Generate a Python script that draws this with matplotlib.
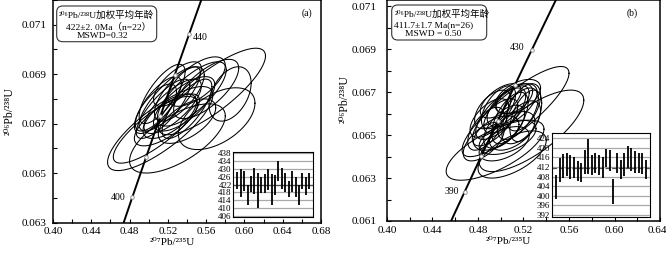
import numpy as np
import matplotlib.pyplot as plt
from matplotlib.patches import FancyBboxPatch
from matplotlib.transforms import IdentityTransform
from matplotlib.ticker import MultipleLocator, FormatStrFormatter, FuncFormatter

plt.rcParams['font.family'] = ['Liberation Serif', 'DejaVu Serif', 'Noto Sans CJK SC']

L238 = 1.55125e-10
L235 = 9.8485e-10

# ---- (a) ellipses: centre 207/235, centre 206/238, half x-range, half y-range, rho
a_x = [0.566, 0.571, 0.512, 0.508, 0.530, 0.560, 0.585, 0.545, 0.522, 0.525, 0.515,
       0.532, 0.510, 0.537, 0.522, 0.540, 0.507, 0.530, 0.514, 0.550, 0.518, 0.540]
a_y = [0.0683, 0.0672, 0.0668, 0.0668, 0.0664, 0.0684, 0.0682, 0.0682, 0.0680, 0.0677, 0.0676,
       0.0682, 0.0678, 0.0678, 0.0673, 0.0676, 0.0676, 0.0686, 0.0682, 0.0687, 0.0671, 0.0671]
a_sx = [0.056, 0.040, 0.055, 0.045, 0.050, 0.034, 0.022, 0.036, 0.032, 0.030, 0.028,
        0.026, 0.024, 0.032, 0.028, 0.026, 0.022, 0.025, 0.024, 0.030, 0.033, 0.030]
a_sy = [0.00175, 0.00125, 0.0017, 0.0014, 0.0014, 0.0012, 0.0011, 0.0013, 0.0013, 0.0011, 0.0012,
        0.0011, 0.0011, 0.0011, 0.0009, 0.0012, 0.0010, 0.0009, 0.0012, 0.0010, 0.0010, 0.0009]
a_rho = [0.82, 0.50, 0.80, 0.82, 0.65, 0.70, 0.40, 0.75, 0.80, 0.75, 0.80,
         0.70, 0.75, 0.70, 0.65, 0.75, 0.70, 0.70, 0.75, 0.65, 0.70, 0.60]

# ---- (b) ellipses
b_x = [0.495, 0.513, 0.527, 0.510, 0.500, 0.505, 0.510, 0.495, 0.515, 0.508, 0.498, 0.520, 0.490,
       0.503, 0.512, 0.496, 0.487, 0.518, 0.506, 0.500, 0.522, 0.493, 0.510, 0.515, 0.485, 0.503]
b_y = [0.0643, 0.0661, 0.0652, 0.0641, 0.0660, 0.0662, 0.0664, 0.0656, 0.0660, 0.0658, 0.0663, 0.0663, 0.0658,
       0.0654, 0.0667, 0.0651, 0.0653, 0.0656, 0.0649, 0.0666, 0.0659, 0.0662, 0.0652, 0.0668, 0.0647, 0.0646]
b_sx = [0.043, 0.047, 0.046, 0.030, 0.022, 0.020, 0.022, 0.020, 0.018, 0.016, 0.015, 0.015, 0.017,
        0.018, 0.016, 0.020, 0.016, 0.017, 0.025, 0.018, 0.014, 0.016, 0.020, 0.020, 0.018, 0.022]
b_sy = [0.0014, 0.0021, 0.0019, 0.0011, 0.0012, 0.0011, 0.0010, 0.0011, 0.0012, 0.0012, 0.0010, 0.0011, 0.0009,
        0.0010, 0.0007, 0.0008, 0.0010, 0.0010, 0.0008, 0.0008, 0.0012, 0.0009, 0.0009, 0.0008, 0.0009, 0.0008]
b_rho = [0.70, 0.85, 0.75, 0.60, 0.70, 0.70, 0.60, 0.70, 0.60, 0.60, 0.60, 0.50, 0.60,
         0.60, 0.50, 0.50, 0.60, 0.55, 0.50, 0.60, 0.50, 0.55, 0.50, 0.50, 0.60, 0.50]

# ---- weighted-mean insets: age and error (Ma)
a_age = [424.2, 422.7, 423.8, 416.6, 422.3, 423.9, 418.8, 421.7, 422.7, 424.6, 419.4,
         421.6, 428.8, 425.2, 422.9, 419.6, 423.5, 420.6, 416.6, 423.8, 421.0, 423.8]
a_err = [4.4, 7.1, 5.2, 5.1, 4.2, 6.6, 9.0, 3.9, 4.9, 5.2, 7.9,
         5.2, 5.2, 5.4, 4.8, 4.0, 5.4, 5.0, 5.1, 4.0, 4.6, 4.0]
b_age = [403.7, 410.9, 412.6, 413.0, 411.9, 411.8, 410.4, 409.8, 414.2, 416.4, 412.8, 413.7, 412.8,
         411.8, 415.8, 414.7, 401.8, 413.8, 411.0, 413.1, 416.2, 415.1, 414.2, 413.8, 413.6, 411.0]
b_err = [5.0, 5.0, 5.0, 4.7, 5.0, 4.2, 4.3, 3.9, 4.9, 7.1, 4.1, 4.0, 4.1,
         4.2, 3.9, 4.3, 5.2, 4.1, 4.1, 4.8, 4.6, 4.7, 4.5, 4.1, 4.3, 4.1]

a_mean, b_mean = 422.0, 411.7
a_marks = [400, 410, 420, 430, 440]
b_marks = [390, 400, 410, 420, 430]

W, H = 666, 254
fig = plt.figure(figsize=(W / 100, H / 100), dpi=100)


def frac(x0, y0, x1, y1):
    return [x0 / W, 1 - y1 / H, (x1 - x0) / W, (y1 - y0) / H]


def concordia(t):
    return np.exp(L235 * t * 1e6) - 1, np.exp(L238 * t * 1e6) - 1


def main_panel(ax, xs, ys, sxs, sys_, rhos, marks, xlim, ylim, ylabs, ypad):
    t = np.linspace(0, 2 * np.pi, 200)
    for x0, y0, sx, sy, r in zip(xs, ys, sxs, sys_, rhos):
        ax.plot(x0 + sx * np.cos(t),
                y0 + sy * (r * np.cos(t) + np.sqrt(1 - r * r) * np.sin(t)),
                color='black', lw=0.75)
    age = np.linspace(300, 520, 300)
    cx, cy = concordia(age)
    ax.plot(cx, cy, color='black', lw=1.4, zorder=3)
    mx, my = concordia(np.array(marks, dtype=float))
    ax.plot(mx, my, 'o', ms=2.6, mfc='white', mec='#888888', mew=0.6, zorder=4)
    ax.set_xlim(*xlim)
    ax.set_ylim(*ylim)
    ax.xaxis.set_major_locator(MultipleLocator(0.04))
    ax.xaxis.set_minor_locator(MultipleLocator(0.02))
    ax.xaxis.set_major_formatter(FormatStrFormatter('%.2f'))
    ax.set_yticks(ylabs)
    ax.yaxis.set_minor_locator(MultipleLocator(0.001))
    ax.yaxis.set_major_formatter(FormatStrFormatter('%.3f'))
    ax.tick_params(which='both', direction='in', length=3.2, width=0.8,
                   top=False, right=False, labelsize=8)
    ax.tick_params(axis='x', pad=3.5)
    ax.tick_params(axis='y', pad=ypad)
    for s in ax.spines.values():
        s.set_linewidth(1.1)
    return mx, my


def inset(ax, ages, errs, mean, ylim, yt, dashed):
    n = len(ages)
    idx = np.arange(n)
    for v in yt:
        ax.axhline(v, color='#a8a8a8', lw=0.9, zorder=1)
    ax.axhline(mean, color='#505050', lw=0.9, ls='--' if dashed else '-', zorder=2)
    ax.vlines(idx, np.array(ages) - np.array(errs), np.array(ages) + np.array(errs),
              color='black', lw=1.3, zorder=3)
    ax.set_xlim(-1.2, n - 1 + 1.2)
    ax.set_ylim(*ylim)
    ax.set_yticks(yt)
    ax.set_xticks([])
    ax.tick_params(axis='y', length=0, pad=1.2, labelsize=6.5)
    for s in ax.spines.values():
        s.set_linewidth(0.8)
    ax.set_facecolor('white')


ax_a = fig.add_axes(frac(53, 0, 321, 222.5))
ax_b = fig.add_axes(frac(387, 0, 660, 221))

mxa, mya = main_panel(ax_a, a_x, a_y, a_sx, a_sy, a_rho, a_marks, (0.40, 0.68), (0.063, 0.072),
                      [0.063, 0.065, 0.067, 0.069, 0.071], 4.5)
mxb, myb = main_panel(ax_b, b_x, b_y, b_sx, b_sy, b_rho, b_marks, (0.40, 0.64), (0.061, 0.0713),
                      [0.061, 0.063, 0.065, 0.067, 0.069, 0.071], 7.5)

# last x label of (b) sits at the picture edge: draw it right-aligned instead
ax_b.xaxis.set_major_formatter(FuncFormatter(lambda v, p: '' if v > 0.635 else '%.2f' % v))
ax_b.annotate('0.64', (0.64, 0), xycoords=('data', 'axes fraction'), xytext=(5, -3.5),
              textcoords='offset points', ha='right', va='top', fontsize=8)

for ax in (ax_a, ax_b):
    ax.set_xlabel('²⁰⁷Pb/²³⁵U', fontsize=8)
    ax.set_ylabel('²⁰⁶Pb/²³⁸U', fontsize=8.5)
    ax.xaxis.label.set_va('center')
    ax.yaxis.label.set_va('center')
ax_a.xaxis.set_label_coords(0.446, -0.09)
ax_a.yaxis.set_label_coords(-0.162, 0.5)
ax_b.xaxis.set_label_coords(0.443, -0.094)
ax_b.yaxis.set_label_coords(-0.155, 0.55)

# concordia age labels
ax_a.annotate('400', (mxa[0], mya[0]), xytext=(-10, 0), textcoords='offset points',
              fontsize=7, ha='center', va='center')
ax_a.annotate('440', (mxa[4], mya[4]), xytext=(8, -3), textcoords='offset points',
              fontsize=7, ha='center', va='center')
ax_b.annotate('390', (mxb[0], myb[0]), xytext=(-9.5, 0), textcoords='offset points',
              fontsize=7, ha='center', va='center')
ax_b.annotate('430', (mxb[4], myb[4]), xytext=(-10.5, 2), textcoords='offset points',
              fontsize=7, ha='center', va='center')

ax_a.text(306.7 / W, 1 - 12.7 / H, '(a)', transform=fig.transFigure, fontsize=7,
          ha='center', va='center')
ax_b.text(631.7 / W, 1 - 13.3 / H, '(b)', transform=fig.transFigure, fontsize=7,
          ha='center', va='center')

# result boxes
fig.patches.append(FancyBboxPatch((56.7, H - 41.7), 100, 35.7,
                                  boxstyle='round,pad=0,rounding_size=6',
                                  transform=IdentityTransform(), fc='white', ec='#333333', lw=0.8))
fig.patches.append(FancyBboxPatch((391.7, H - 40), 95, 35,
                                  boxstyle='round,pad=0,rounding_size=6',
                                  transform=IdentityTransform(), fc='white', ec='#333333', lw=0.8))
fs = 6.8
fig.text(106.7 / W, 1 - 15 / H, '²⁰⁶Pb/²³⁸U加权平均年龄', fontsize=fs, ha='center', va='center')
fig.text(109 / W, 1 - 26.5 / H, '422±2. 0Ma（n=22）', fontsize=fs, ha='center', va='center')
fig.text(102.5 / W, 1 - 36 / H, 'MSWD=0.32', fontsize=fs, ha='center', va='center')
fig.text(395 / W, 1 - 14 / H, '²⁰⁶Pb/²³⁸U加权平均年龄', fontsize=fs, ha='left', va='center')
fig.text(393.5 / W, 1 - 25 / H, '411.7±1.7 Ma(n=26)', fontsize=fs, ha='left', va='center')
fig.text(405 / W, 1 - 34 / H, 'MSWD = 0.50', fontsize=fs, ha='left', va='center')

ins_a = fig.add_axes(frac(233.3, 152.3, 313.3, 216.7))
inset(ins_a, a_age, a_err, a_mean, (405.5, 438.5), list(range(406, 439, 4)), False)
ins_b = fig.add_axes(frac(551.7, 132.7, 650, 216.7))
inset(ins_b, b_age, b_err, b_mean, (391.3, 426.3), list(range(392, 425, 4)), True)

fig.savefig('out.png', dpi=100)
